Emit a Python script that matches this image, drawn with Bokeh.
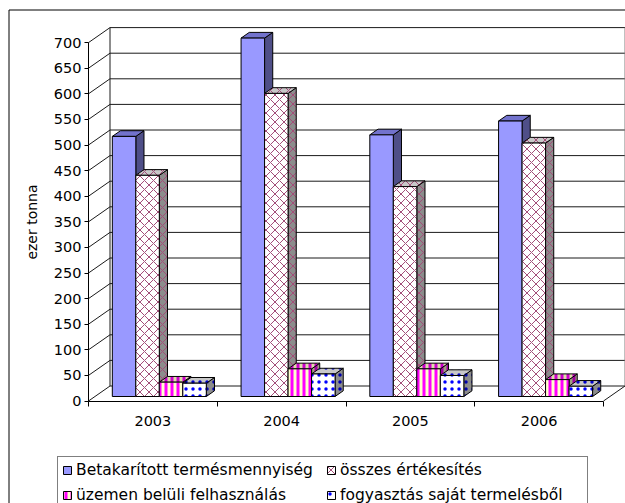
from bokeh.plotting import figure
from bokeh.models import Range1d, LinearAxis, FixedTicker, Legend, LegendItem
from bokeh.embed import file_html
from bokeh.resources import INLINE

# ---------------- data ----------------
years = ["2003", "2004", "2005", "2006"]
series_names = [
    "Betakarított termésmennyiség",
    "összes értékesítés",
    "üzemen belüli felhasználás",
    "fogyasztás saját termelésből",
]
harvested = [508, 700, 511, 538]
total_sales = [432, 592, 410, 495]
in_plant_use = [28, 54, 54, 33]
own_consumption = [26, 44, 41, 20]
y_ticks = list(range(0, 701, 50))
y_label = "ezer tonna"

series_values = [harvested, total_sales, in_plant_use, own_consumption]

# ---------------- styles ----------------
FONT = "DejaVu Sans"
styles = [
    dict(front=dict(fill_color="#9999FF"),
         side=dict(fill_color="#4F4F88"),
         top=dict(fill_color="#7272CC")),
    dict(front=dict(fill_color="#FFFFFF", hatch_pattern="diagonal_cross", hatch_color="#A34D78", hatch_scale=9, hatch_weight=1),
         side=dict(fill_color="#8C8C8C", hatch_pattern="diagonal_cross", hatch_color="#A34D78", hatch_scale=9, hatch_weight=1),
         top=dict(fill_color="#C8C8C8", hatch_pattern="diagonal_cross", hatch_color="#A34D78", hatch_scale=9, hatch_weight=1)),
    dict(front=dict(fill_color="#FFFFCC", hatch_pattern="vertical_line", hatch_color="#FF00FF", hatch_scale=6, hatch_weight=3),
         side=dict(fill_color="#A0A080", hatch_pattern="vertical_line", hatch_color="#A000A0", hatch_scale=6, hatch_weight=3),
         top=dict(fill_color="#DDDDAA", hatch_pattern="vertical_line", hatch_color="#CC00CC", hatch_scale=6, hatch_weight=3)),
    dict(front=dict(fill_color="#FFFFFF", hatch_pattern="dot", hatch_color="#0000FF", hatch_scale=7, hatch_weight=4),
         side=dict(fill_color="#8C8C8C", hatch_pattern="dot", hatch_color="#0000AA", hatch_scale=7, hatch_weight=4),
         top=dict(fill_color="#C8C8C8", hatch_pattern="dot", hatch_color="#0000CC", hatch_scale=7, hatch_weight=4)),
]

# ---------------- geometry (pixels -> data units) ----------------
W, H = 625, 503
PX_CAT = 128.75          # pixels per category slot
PX_VAL = 0.512           # pixels per value unit
ORIGIN_X, ORIGIN_Y = 88, 400.5   # canvas pixel of front axis origin
DX = 21.5 / PX_CAT       # depth offset of the walls (x)
DY = 15.0 / PX_VAL       # depth offset of the walls (y)
F0, F1 = 0.30, 0.68      # depth fraction of bar front / back
BAR_W = 23.5 / PX_CAT
GAP = (1 - len(series_names) * BAR_W) / 2
n_cat = len(years)
ymax = y_ticks[-1]

x_range = Range1d(-ORIGIN_X / PX_CAT, (W - ORIGIN_X) / PX_CAT)
y_range = Range1d(-(H - ORIGIN_Y) / PX_VAL, ORIGIN_Y / PX_VAL)

p = figure(width=W, height=H, x_range=x_range, y_range=y_range,
           x_axis_type=None, y_axis_type=None, toolbar_location=None,
           output_backend="svg", min_border=0, min_border_left=0,
           min_border_right=0, min_border_top=0, min_border_bottom=0)
p.grid.visible = False
p.outline_line_color = None
p.background_fill_color = "white"
p.border_fill_color = "white"

# outer chart border (left / top visible)
x_left = x_range.start + 8.5 / PX_CAT
y_top = y_range.end - 9.5 / PX_VAL
p.segment(x0=[x_left, x_left], y0=[y_range.start, y_top],
          x1=[x_left, x_range.end], y1=[y_top, y_top], line_color="black", line_width=1)

# walls: back wall gridlines, left wall diagonals, edges
wall_col = "#1a1a1a"
p.segment(x0=[DX] * len(y_ticks), y0=[v + DY for v in y_ticks],
          x1=[n_cat + DX] * len(y_ticks), y1=[v + DY for v in y_ticks],
          line_color=wall_col, line_width=1)
p.segment(x0=[0] * len(y_ticks), y0=y_ticks,
          x1=[DX] * len(y_ticks), y1=[v + DY for v in y_ticks],
          line_color=wall_col, line_width=1)
p.segment(x0=[DX, n_cat + DX, n_cat], y0=[DY, DY, 0],
          x1=[DX, n_cat + DX, n_cat + DX], y1=[ymax + DY, ymax + DY, DY],
          line_color=["#1a1a1a", "#808080", "#1a1a1a"], line_width=1)

# bars
ddx = (F1 - F0) * DX
ddy = (F1 - F0) * DY
front_renderers = []
for k, vals in enumerate(series_values):
    fx, fy, sx, sy, tx, ty = [], [], [], [], [], []
    for i, v in enumerate(vals):
        x0 = i + GAP + k * BAR_W + F0 * DX
        x1 = x0 + BAR_W
        y0 = F0 * DY
        y1 = y0 + v
        fx.append([x0, x1, x1, x0]); fy.append([y0, y0, y1, y1])
        sx.append([x1, x1 + ddx, x1 + ddx, x1]); sy.append([y0, y0 + ddy, y1 + ddy, y1])
        tx.append([x0, x1, x1 + ddx, x0 + ddx]); ty.append([y1, y1, y1 + ddy, y1 + ddy])
    st = styles[k]
    p.patches(sx, sy, line_color="black", line_width=1, **st["side"])
    p.patches(tx, ty, line_color="black", line_width=1, **st["top"])
    r = p.patches(fx, fy, line_color="black", line_width=1, **st["front"])
    front_renderers.append(r)

# y axis (front-left edge of the 3D box)
yaxis = LinearAxis(fixed_location=0, ticker=FixedTicker(ticks=y_ticks), bounds=(0, ymax),
                   axis_label=y_label)
yaxis.axis_line_color = "black"
yaxis.major_tick_line_color = "black"
yaxis.major_tick_out = 4
yaxis.major_tick_in = 0
yaxis.minor_tick_line_color = None
yaxis.major_label_standoff = 3
yaxis.major_label_text_font = FONT
yaxis.major_label_text_font_size = "14.5px"
yaxis.major_label_text_color = "black"
yaxis.axis_label_text_font = FONT
yaxis.axis_label_text_font_size = "14px"
yaxis.axis_label_text_font_style = "normal"
yaxis.axis_label_text_color = "black"
yaxis.axis_label_standoff = 11
p.add_layout(yaxis, "left")

# x axis (front edge of the floor), labels centred on categories
centers = [i + 0.5 for i in range(n_cat)]
xaxis = LinearAxis(fixed_location=0,
                   ticker=FixedTicker(ticks=centers, minor_ticks=list(range(n_cat + 1))),
                   bounds=(0, n_cat),
                   major_label_overrides={c: y for c, y in zip(centers, years)})
xaxis.axis_line_color = "black"
xaxis.major_tick_out = 0
xaxis.major_tick_in = 0
xaxis.minor_tick_out = 5
xaxis.minor_tick_in = 0
xaxis.minor_tick_line_color = "black"
xaxis.major_label_standoff = 10
xaxis.major_label_text_font = FONT
xaxis.major_label_text_font_size = "14.5px"
xaxis.major_label_text_color = "black"
p.add_layout(xaxis, "below")

# legend (row-major order: two items per row)
order = [0, 2, 1, 3]
legend = Legend(items=[LegendItem(label=series_names[j], renderers=[front_renderers[j]]) for j in order],
                ncols=2, location=(57, -6))
legend.border_line_color = "black"
legend.border_line_width = 1
legend.background_fill_color = "white"
legend.background_fill_alpha = 1
legend.label_text_font = FONT
legend.label_text_font_size = "15.5px"
legend.label_text_color = "black"
legend.glyph_width = 10
legend.glyph_height = 10
legend.label_standoff = 4
legend.label_width = 243
legend.label_height = 16
legend.spacing = 7
legend.padding = 4
legend.margin = 0
p.add_layout(legend)

open("out.html", "w").write(file_html(p, INLINE))
